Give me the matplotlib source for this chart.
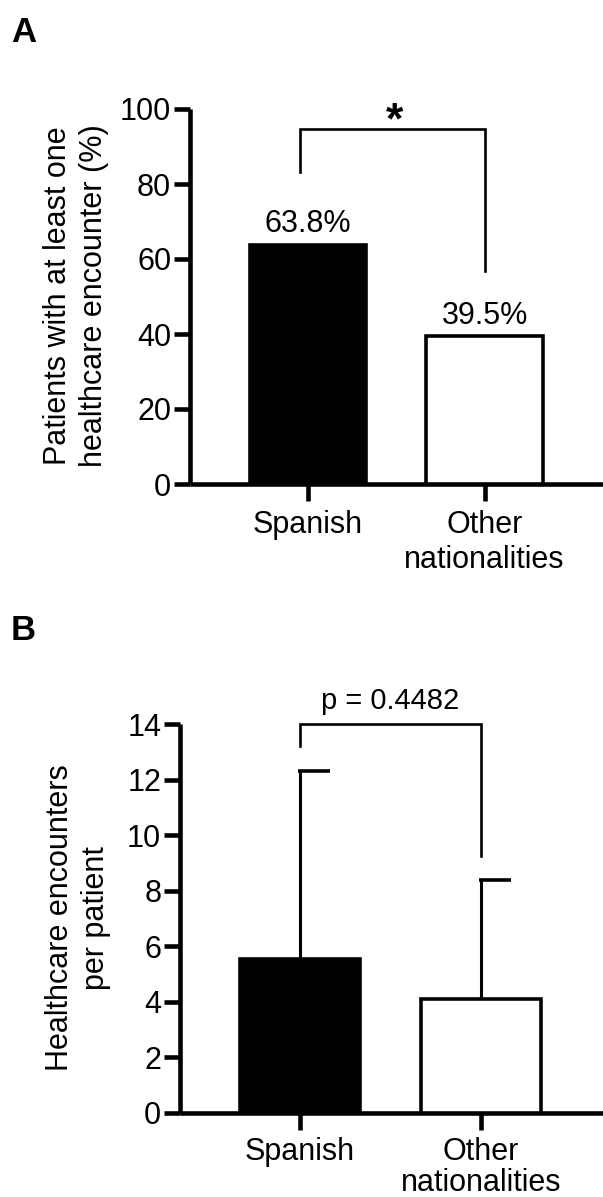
import numpy as np
import matplotlib
matplotlib.use("Agg")
import matplotlib.pyplot as plt

plt.rcParams['font.family'] = ['Liberation Sans', 'DejaVu Sans']

groups = ["Spanish", "Other\nnationalities"]
colors = ["black", "white"]

# panel A
pct = [63.8, 39.5]
pct_labels = ["63.8%", "39.5%"]
a_ticks = [0, 20, 40, 60, 80, 100]
a_bracket_x = [-0.045, -0.045, 1.0, 1.0]
a_bracket_y = [83.2, 94.7, 94.7, 56.8]

# panel B
enc_mean = [5.55, 4.1]
enc_sd = [6.75, 4.3]
b_ticks = [0, 2, 4, 6, 8, 10, 12, 14]
b_bracket_x = [0.0, 0.0, 1.0, 1.0]
b_bracket_y = [13.2, 14.0, 14.0, 9.25]
p_text = "p = 0.4482"

W, H = 603, 1197
fig = plt.figure(figsize=(W / 100, H / 100), dpi=100)

lw_axis = 3.3
fs = 22


def style(ax, ticks, pad=7, ls=1.2):
    for s in ["top", "right"]:
        ax.spines[s].set_visible(False)
    for s in ["left", "bottom"]:
        ax.spines[s].set_linewidth(lw_axis)
        ax.spines[s].set_capstyle("butt")
    ax.set_yticks(ticks)
    ax.set_xticks([0, 1])
    ax.set_xticklabels(groups, fontsize=fs, linespacing=ls)
    ax.tick_params(axis="y", length=11.5, width=lw_axis, labelsize=fs, pad=2)
    ax.tick_params(axis="x", length=12, width=lw_axis, labelsize=fs, pad=pad)


x = np.arange(len(groups))

# ---- A ----
axA = fig.add_axes([190 / W, 1 - 484 / H, 1 - 190 / W, (484 - 109) / H])
axA.bar(x, pct, width=0.66, color=colors, edgecolor="black", linewidth=2.6, zorder=3)
axA.set_xlim(-0.669, 1.671)
axA.set_ylim(0, 100)
style(axA, a_ticks)
for xi, v, t in zip(x, pct, pct_labels):
    axA.text(xi, v + 3.3, t, ha="center", va="baseline", fontsize=fs)
axA.plot(a_bracket_x, a_bracket_y, color="black", lw=1.9, clip_on=False,
         solid_joinstyle="miter")
axA.text(0.487, 96.5, "*", ha="center", va="center", fontsize=32,
         fontweight="bold", clip_on=False)
fig.text(76 / W, 1 - 296 / H, "Patients with at least one\nhealthcare encounter (%)",
         rotation=90, ha="center", va="center", fontsize=fs, linespacing=1.25)
fig.text(11 / W, 1 - 33 / H, "A", ha="left", va="center", fontsize=25,
         fontweight="bold")

# ---- B ----
axB = fig.add_axes([180 / W, 1 - 1113 / H, 1 - 180 / W, (1113 - 724) / H])
axB.bar(x, enc_mean, width=0.66, color=colors, edgecolor="black", linewidth=2.6, zorder=3)
for xi, m, s in zip(x, enc_mean, enc_sd):
    axB.plot([xi, xi], [m, m + s], color="black", lw=2.2, zorder=2, clip_on=False)
    axB.plot([xi - 0.012, xi + 0.165], [m + s, m + s], color="black", lw=2.6,
             zorder=2, clip_on=False, solid_capstyle="butt")
axB.set_xlim(-0.663, 1.674)
axB.set_ylim(0, 14)
style(axB, b_ticks, pad=5, ls=1.08)
axB.plot(b_bracket_x, b_bracket_y, color="black", lw=1.9, clip_on=False,
         solid_joinstyle="miter")
axB.text(0.497, 14.55, p_text, ha="center", va="baseline", fontsize=21, clip_on=False)
fig.text(78 / W, 1 - 918 / H, "Healthcare encounters\nper patient",
         rotation=90, ha="center", va="center", fontsize=fs, linespacing=1.25)
fig.text(11 / W, 1 - 630 / H, "B", ha="left", va="center", fontsize=25,
         fontweight="bold")

fig.savefig("out.png", dpi=100)
